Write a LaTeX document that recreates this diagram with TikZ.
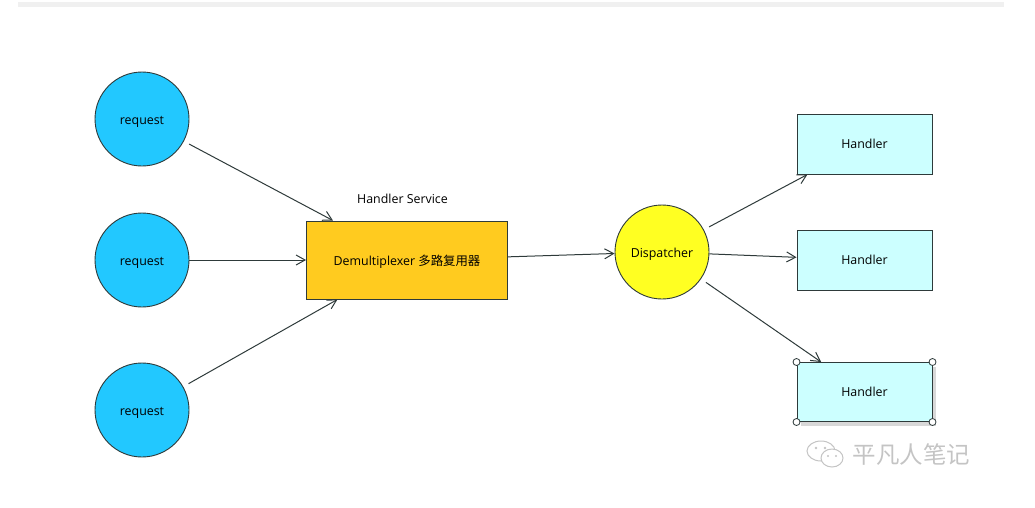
\documentclass[tikz,border=0pt]{standalone}
\usepackage{xcolor}
\usepackage{fontspec}
\setmainfont{Open Sans}
\newfontfamily\cjk{Noto Sans CJK SC}
\usetikzlibrary{arrows.meta,shadows}

\begin{document}
\begin{tikzpicture}[
  x=1pt,y=-1pt,
  >={Straight Barb[length=9pt,width=10pt]},
  labelfont/.style={font=\fontsize{12.4}{14}\selectfont},
  request/.style={circle,draw=edge,fill=reqblue,line width=0.9pt,minimum size=94pt,inner sep=0,labelfont,text height=10pt,text depth=0pt},
  handler/.style={rectangle,draw=edge,fill=handcyan,line width=0.9pt,minimum width=135pt,minimum height=60pt,inner sep=0,labelfont},
  link/.style={->,draw=edge,line width=1pt},
  gap/.style={shorten <=6pt},
  grip/.style={circle,draw=edge,fill=white,minimum size=7pt,inner sep=0,line width=0.8pt}]

  \definecolor{edge}{HTML}{2E3A3A}
  \definecolor{reqblue}{HTML}{22C8FF}
  \definecolor{handcyan}{HTML}{CCFFFF}
  \definecolor{demuxorange}{HTML}{FFCB1F}
  \definecolor{dispyellow}{HTML}{FFFF22}
  \definecolor{wmgray}{HTML}{C4C4C4}

  \useasboundingbox (0,0) rectangle (1035,507);
  \fill[black!6] (18,2) rectangle (1004,7);

  % ------------------- requests ----------------------
  \foreach \name/\y in {req1/119,req2/260,req3/410} {
    \node[request] (\name) at (142,\y) {request};
  }

  % ------------------- middle ------------------------
  \node[rectangle,draw=edge,fill=demuxorange,line width=0.9pt,minimum width=201pt,minimum height=78pt,inner sep=0,
    labelfont,text height=10pt,text depth=0pt] (demux) at (407,260) {Demultiplexer {\cjk 多路复用器}};
  \node[labelfont] (service) at (402.5,199) {Handler Service};
  \node[request,fill=dispyellow] (disp) at (662,252) {Dispatcher};

  % ------------------- handlers ----------------------
  \node[handler] (hand1) at (864.5,144) {Handler};
  \node[handler] (hand2) at (864.5,260) {Handler};
  \node[handler,minimum height=59pt,line width=1pt,
    drop shadow={shadow xshift=4pt,shadow yshift=-4pt,fill=black!30}] (hand3) at (864.5,392) {Handler};
  \foreach \corner in {north west,north east,south west,south east} {
    \node[grip] (grip \corner) at (hand3.\corner) {};
  }

  % ---------------------------------------------------------
  \draw[link,gap] (req1) -- (demux);
  \draw[link] (req2) -- (demux);
  \draw[link,gap] (req3) -- (demux);
  \draw[link] (demux) -- (disp);
  \draw[link,gap] (disp) -- (hand1);
  \draw[link] (disp) -- (hand2);
  \draw[link,gap] (disp) -- (hand3);

  % ------------------- watermark ---------------------
  \draw[wmgray,fill=white,line width=1pt] (821,451) ellipse[x radius=14,y radius=10];
  \draw[wmgray,fill=white,line width=1pt] (832,458) ellipse[x radius=11,y radius=9];
  \fill[wmgray] (816,448) circle[radius=1.3];
  \fill[wmgray] (825,448) circle[radius=1.3];
  \fill[wmgray] (828,456) circle[radius=1.1];
  \fill[wmgray] (836,456) circle[radius=1.1];
  \node[wmgray,font=\cjk\fontsize{23.5}{25}\selectfont,inner sep=0] (brand) at (911.5,455) {平凡人笔记};
\end{tikzpicture}
\end{document}
